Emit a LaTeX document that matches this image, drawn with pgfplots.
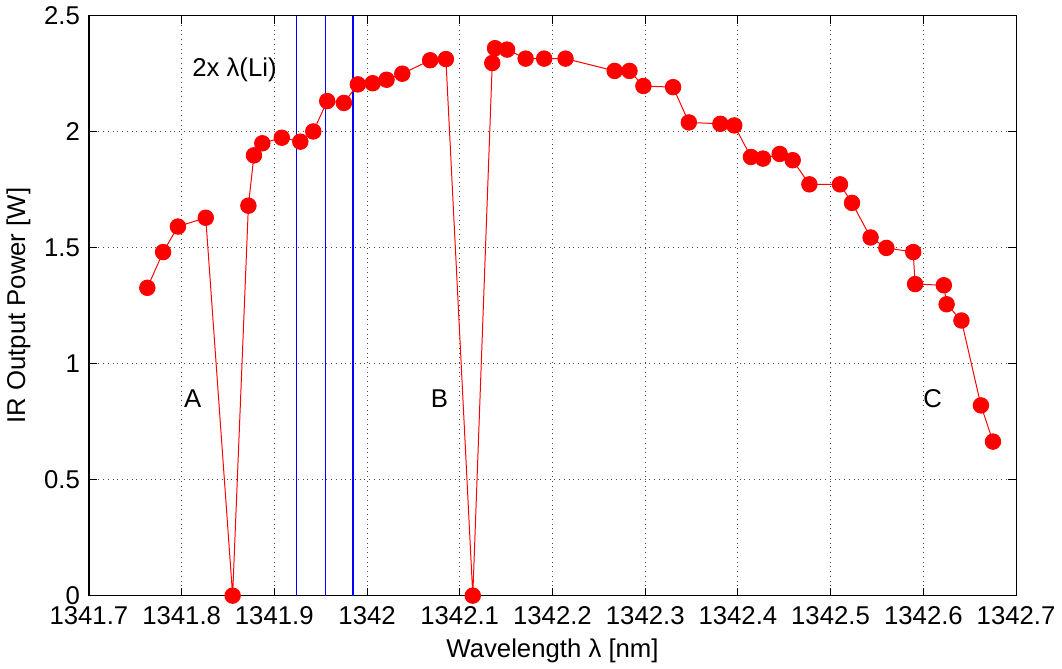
\documentclass[border=0pt]{standalone}
\usepackage{fontspec}
\setmainfont{Liberation Sans}
\usepackage{pgfplots}
\pgfplotsset{compat=1.18}
\begin{document}
\begin{tikzpicture}
\begin{axis}[
  scale only axis,
  width=468.5pt, height=293pt,
  xmin=1341.7, xmax=1342.7, ymin=0, ymax=2.5,
  xtick={1341.7,1341.8,...,1342.7},
  xticklabels={1341.7,1341.8,1341.9,1342,1342.1,1342.2,1342.3,1342.4,1342.5,1342.6,1342.7},
  ytick={0,0.5,1,1.5,2,2.5},
  yticklabels={0,0.5,1,1.5,2,2.5},
  tick align=inside,
  major tick length=4pt,
  grid=major,
  major grid style={dotted, black!70, line width=0.5pt},
  axis line style={black, line width=0.6pt},
  tick style={black, line width=0.5pt},
  ticklabel style={font=\fontsize{13}{15}\selectfont},
  xticklabel style={yshift=-2pt},
  yticklabel style={xshift=-1pt},
  label style={font=\fontsize{13}{15}\selectfont},
  xlabel={Wavelength λ [nm]},
  ylabel={IR Output Power [W]},
  xlabel style={yshift=0pt},
  clip=false,
]
\addplot[blue, line width=0.7pt] coordinates {(1341.924,0) (1341.924,2.5)};
\addplot[blue, line width=0.7pt] coordinates {(1341.955,0) (1341.955,2.5)};
\addplot[blue, line width=0.7pt] coordinates {(1341.985,0) (1341.985,2.5)};
\addplot[red, line width=0.5pt, mark=*, mark size=3.9pt, mark options={fill=red, draw=red}] coordinates {
(1341.763,1.327)
(1341.780,1.481)
(1341.796,1.591)
(1341.826,1.629)
(1341.855,0)
(1341.872,1.681)
(1341.878,1.898)
(1341.887,1.950)
(1341.908,1.974)
(1341.928,1.957)
(1341.942,2.001)
(1341.957,2.132)
(1341.975,2.124)
(1341.990,2.204)
(1342.006,2.209)
(1342.021,2.224)
(1342.038,2.250)
(1342.068,2.308)
(1342.085,2.313)
(1342.114,0)
(1342.135,2.296)
(1342.138,2.360)
(1342.151,2.354)
(1342.171,2.315)
(1342.191,2.315)
(1342.214,2.315)
(1342.267,2.262)
(1342.283,2.262)
(1342.298,2.197)
(1342.330,2.192)
(1342.347,2.040)
(1342.381,2.034)
(1342.396,2.027)
(1342.414,1.891)
(1342.427,1.884)
(1342.445,1.904)
(1342.459,1.877)
(1342.477,1.773)
(1342.510,1.773)
(1342.523,1.693)
(1342.543,1.544)
(1342.560,1.499)
(1342.589,1.481)
(1342.591,1.343)
(1342.622,1.338)
(1342.625,1.256)
(1342.641,1.186)
(1342.662,0.820)
(1342.675,0.664)
};
\node[anchor=west, font=\fontsize{13}{15}\selectfont] at (axis cs:1341.804,2.268) {2x λ(Li)};
\node[font=\fontsize{13}{15}\selectfont] at (axis cs:1341.812,0.85) {A};
\node[font=\fontsize{13}{15}\selectfont] at (axis cs:1342.078,0.85) {B};
\node[font=\fontsize{13}{15}\selectfont] at (axis cs:1342.610,0.85) {C};
\end{axis}
\end{tikzpicture}
\end{document}
